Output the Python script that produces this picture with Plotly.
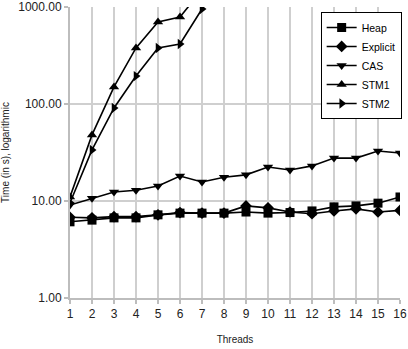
import plotly.graph_objects as go

threads = list(range(1, 17))
heap = [6.1, 6.35, 6.7, 6.7, 7.2, 7.5, 7.5, 7.5, 7.7, 7.5, 7.6, 7.9, 8.7, 8.9, 9.5, 11.0]
explicit = [6.8, 6.7, 6.9, 6.9, 7.2, 7.6, 7.5, 7.5, 8.9, 8.5, 7.7, 7.4, 7.9, 8.3, 7.7, 8.0]
cas = [9.1, 10.7, 12.4, 12.9, 14.3, 18.1, 15.7, 17.6, 18.6, 22.4, 20.9, 23.0, 27.7, 27.7, 32.8, 31.2]
stm1_x = [1, 2, 3, 4, 5, 6, 7]
stm1 = [11.0, 48, 150, 378, 700, 789, 1500]
stm2_x = [1, 2, 3, 4, 5, 6, 7]
stm2 = [9.6, 33.6, 91, 194, 378, 415, 954]

y_ticks = [1, 10, 100, 1000]
y_tick_text = ["1.00", "10.00", "100.00", "1000.00"]

series = [
    ("Heap", threads, heap, "square"),
    ("Explicit", threads, explicit, "diamond"),
    ("CAS", threads, cas, "triangle-down"),
    ("STM1", stm1_x, stm1, "triangle-up"),
    ("STM2", stm2_x, stm2, "triangle-right"),
]

fig = go.Figure()
for name, xs, ys, sym in series:
    fig.add_trace(go.Scatter(
        x=xs, y=ys, name=name, mode="lines+markers",
        line=dict(color="black", width=1.6),
        marker=dict(symbol=sym, size=9, color="black"),
    ))

axis_common = dict(
    showgrid=True, gridcolor="#cfcfcf", gridwidth=2,
    showline=True, linecolor="#bdbdbd", linewidth=2,
    ticks="outside", ticklen=4, tickcolor="#bdbdbd", tickwidth=2,
    tickfont=dict(family="Liberation Sans, Arial, sans-serif", size=12, color="#222222"),
    zeroline=False, automargin=False,
)

fig.update_layout(
    width=408, height=349,
    margin=dict(l=70, r=7, t=7, b=51),
    paper_bgcolor="white", plot_bgcolor="white",
    font=dict(family="Liberation Sans, Arial, sans-serif", size=11, color="#222222"),
    xaxis=dict(range=[1, 16], dtick=1, tick0=1,
               title=dict(text="Threads", font=dict(size=10), standoff=16), **axis_common),
    yaxis=dict(type="log", range=[0, 3], tickvals=y_ticks, ticktext=y_tick_text,
               title=dict(text="Time (in s), logarithmic", font=dict(size=10), standoff=8),
               **axis_common),
    legend=dict(
        x=1.002, y=0.983, xanchor="right", yanchor="top",
        bgcolor="white", bordercolor="black", borderwidth=1,
        font=dict(size=10.5, color="black"), itemwidth=30,
        tracegroupgap=0,
    ),
    showlegend=True,
)

fig.write_html("out.html")
